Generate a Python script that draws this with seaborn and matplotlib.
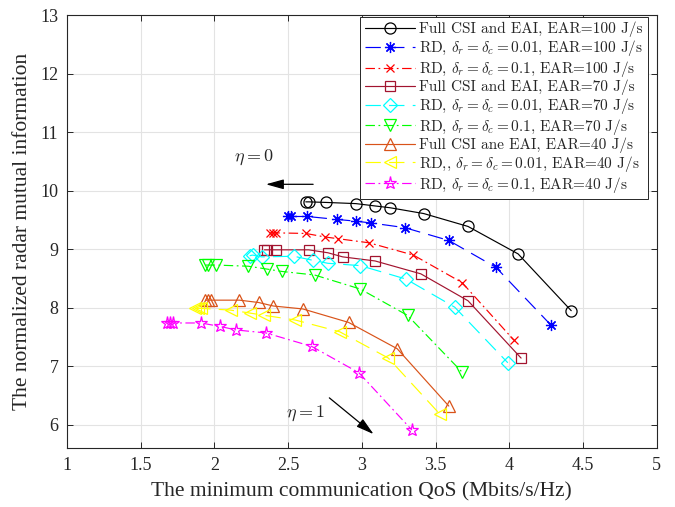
import matplotlib
matplotlib.use("Agg")
import matplotlib.pyplot as plt
import seaborn as sns
import pandas as pd

# ---------------- data ----------------
x_full100 = [2.62, 2.64, 2.76, 2.96, 3.09, 3.19, 3.42, 3.72, 4.06, 4.42]
y_full100 = [9.81, 9.81, 9.80, 9.78, 9.74, 9.71, 9.61, 9.39, 8.92, 7.95]
x_rd001_100 = [2.50, 2.52, 2.63, 2.83, 2.96, 3.06, 3.29, 3.59, 3.91, 4.28]
y_rd001_100 = [9.56, 9.56, 9.56, 9.51, 9.48, 9.45, 9.37, 9.15, 8.69, 7.71]
x_rd01_100 = [2.38, 2.40, 2.42, 2.62, 2.75, 2.84, 3.05, 3.35, 3.68, 4.03]
y_rd01_100 = [9.28, 9.28, 9.28, 9.27, 9.21, 9.18, 9.11, 8.90, 8.43, 7.45]
x_full70 = [2.34, 2.36, 2.42, 2.64, 2.77, 2.87, 3.09, 3.40, 3.72, 4.08]
y_full70 = [8.99, 8.99, 8.99, 8.99, 8.94, 8.87, 8.80, 8.58, 8.12, 7.14]
x_rd001_70 = [2.24, 2.26, 2.32, 2.54, 2.67, 2.77, 2.99, 3.30, 3.63, 3.99]
y_rd001_70 = [8.89, 8.90, 8.87, 8.88, 8.81, 8.76, 8.72, 8.49, 8.01, 7.06]
x_rd01_70 = [1.94, 1.96, 2.01, 2.23, 2.36, 2.46, 2.68, 2.99, 3.31, 3.68]
y_rd01_70 = [8.73, 8.73, 8.73, 8.71, 8.66, 8.62, 8.56, 8.32, 7.87, 6.90]
x_full40 = [1.94, 1.96, 1.98, 2.17, 2.30, 2.40, 2.60, 2.91, 3.24, 3.59]
y_full40 = [8.13, 8.13, 8.13, 8.13, 8.09, 8.03, 7.98, 7.75, 7.30, 6.32]
x_rd001_40 = [1.87, 1.89, 1.91, 2.11, 2.24, 2.34, 2.55, 2.85, 3.18, 3.53]
y_rd001_40 = [7.99, 7.99, 7.99, 7.96, 7.91, 7.87, 7.79, 7.59, 7.14, 6.18]
x_rd01_40 = [1.68, 1.70, 1.72, 1.91, 2.04, 2.15, 2.35, 2.66, 2.98, 3.34]
y_rd01_40 = [7.74, 7.74, 7.74, 7.74, 7.68, 7.62, 7.57, 7.34, 6.89, 5.91]

labels = [
    "Full CSI and EAI, EAR=100 J/s",
    r"RD, $\delta_r=\delta_c=0.01$, EAR=100 J/s",
    r"RD, $\delta_r=\delta_c=0.1$, EAR=100 J/s",
    "Full CSI and EAI, EAR=70 J/s",
    r"RD, $\delta_r=\delta_c=0.01$, EAR=70 J/s",
    r"RD, $\delta_r=\delta_c=0.1$, EAR=70 J/s",
    "Full CSI ane EAI, EAR=40 J/s",
    r"RD,, $\delta_r=\delta_c=0.01$, EAR=40 J/s",
    r"RD, $\delta_r=\delta_c=0.1$, EAR=40 J/s",
]
xs = [x_full100, x_rd001_100, x_rd01_100, x_full70, x_rd001_70, x_rd01_70,
      x_full40, x_rd001_40, x_rd01_40]
ys = [y_full100, y_rd001_100, y_rd01_100, y_full70, y_rd001_70, y_rd01_70,
      y_full40, y_rd001_40, y_rd01_40]

# ---------------- styles ----------------
dashed = (0, (13, 7))
dashdot = (0, (8, 3, 1.5, 3))
colors = ["#000000", "#0000ff", "#ff0000", "#a2142f", "#00ffff", "#00ff00",
          "#d95319", "#ffff00", "#ff00ff"]
styles = ["-", dashed, dashdot, "-", dashed, dashdot, "-", dashed, dashdot]
markers = ["o", (8, 2, 0), "x", "s", "D", "v", "^", "<", "*"]
msizes = [8, 8, 6, 6.5, 7, 8.5, 8.5, 8.5, 9.5]

sns.set_theme(style="ticks")
plt.rcParams["font.family"] = ["Liberation Serif", "DejaVu Serif"]
plt.rcParams["mathtext.fontset"] = "cm"

fig = plt.figure(figsize=(6.75, 5.07), dpi=100)
ax = fig.add_axes([0.099, 0.116, 0.874, 0.854])

for i in range(len(xs)):
    df = pd.DataFrame({"x": xs[i], "y": ys[i]})
    sns.lineplot(data=df, x="x", y="y", ax=ax, sort=False, estimator=None,
                 color=colors[i], linestyle=styles[i], linewidth=0.85,
                 marker=markers[i], markersize=msizes[i],
                 markerfacecolor="none", markeredgecolor=colors[i],
                 markeredgewidth=0.9, label=labels[i])

ax.set_xlim(1, 5)
ax.set_ylim(5.6, 13)
ax.set_xticks([1, 1.5, 2, 2.5, 3, 3.5, 4, 4.5, 5])
ax.set_xticklabels(["1", "1.5", "2", "2.5", "3", "3.5", "4", "4.5", "5"])
ax.set_yticks([6, 7, 8, 9, 10, 11, 12, 13])
ax.grid(True, color="#e3e3e3", linewidth=0.8)
ax.set_axisbelow(True)
ax.tick_params(direction="in", top=True, right=True, labelsize=13,
               length=4, width=0.7, color="#262626", pad=6)
for s in ax.spines.values():
    s.set_visible(True)
    s.set_color("#262626")
    s.set_linewidth(0.8)

ax.set_xlabel("The minimum communication QoS (Mbits/s/Hz)", fontsize=15.5,
              labelpad=6)
ax.set_ylabel("The normalized radar mutual information", fontsize=15.5,
              labelpad=6)

leg = ax.legend(loc="upper right", bbox_to_anchor=(0.985, 0.995),
                prop={"family": "cmr10", "size": 11}, frameon=True,
                fancybox=False, framealpha=1, edgecolor="#262626",
                handlelength=3.3, handletextpad=0.25, labelspacing=0.05,
                borderpad=0.3, borderaxespad=0.0)
leg.get_frame().set_linewidth(0.7)

# annotations
ax.text(2.27, 10.58, r"$\eta=0$", fontsize=13, ha="center", va="center")
ax.annotate("", xy=(2.35, 10.11), xytext=(2.67, 10.11),
            arrowprops=dict(arrowstyle="-|>,head_length=0.9,head_width=0.25",
                            color="black", lw=0.9, shrinkA=0, shrinkB=0))
ax.text(2.62, 6.20, r"$\eta=1$", fontsize=13, ha="center", va="center")
ax.annotate("", xy=(3.08, 5.84), xytext=(2.78, 6.46),
            arrowprops=dict(arrowstyle="-|>,head_length=0.9,head_width=0.25",
                            color="black", lw=0.9, shrinkA=0, shrinkB=0))

fig.savefig("out.png", dpi=100)
